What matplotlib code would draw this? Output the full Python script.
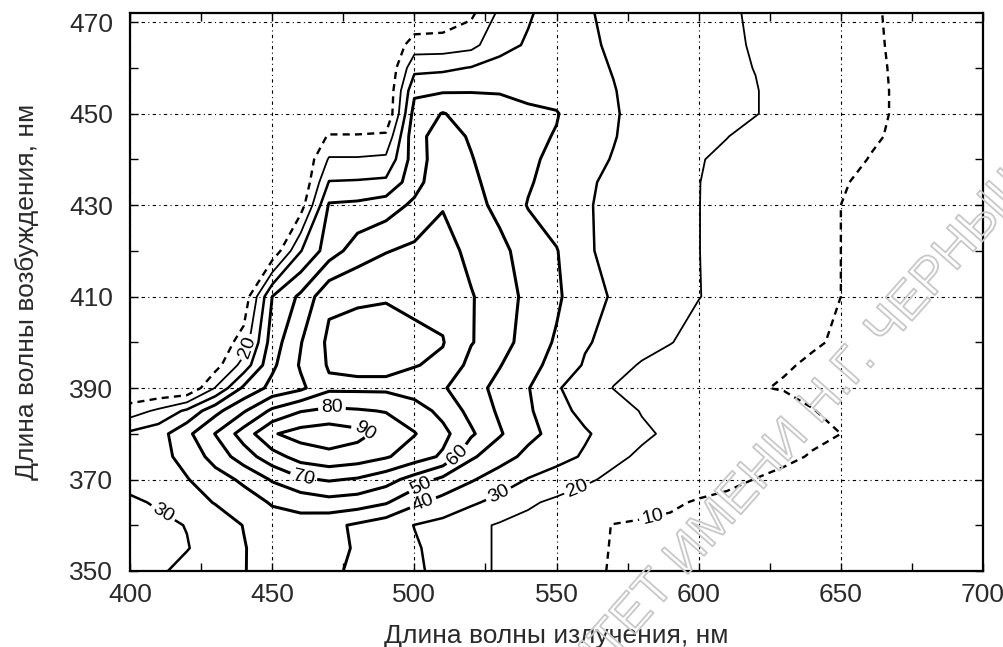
import numpy as np
import matplotlib
matplotlib.use("Agg")
import matplotlib.pyplot as plt
from matplotlib.ticker import MultipleLocator
import matplotlib.patheffects as pe

plt.rcParams["font.family"] = ["Liberation Sans", "DejaVu Sans"]
plt.rcParams["lines.dashed_pattern"] = [3.0, 2.2]

# emission wavelength (columns) and excitation wavelength (rows), nm
em_nm = [400, 410, 420, 430, 440, 450, 460, 470, 480, 490, 500, 510, 520, 530,
         540, 550, 560, 570, 580, 590, 600, 610, 620, 630, 640, 660, 680, 700]
ex_nm = [350, 355, 360, 365, 370, 375, 380, 385, 390, 395, 400, 410, 420, 430,
         435, 440, 445, 450, 455, 460, 465, 472]

# relative fluorescence intensity, one row per excitation wavelength
intensity = [
    [25, 28.5, 33, 36.5, 39.7, 43, 44.5, 42, 38, 35, 31.5, 27.5, 22.5, 19, 16.5, 14, 11.5, 9.5, 8.5, 8, 7.5, 7, 7, 6.5, 6.5, 6, 5.5, 5],
    [26, 27.5, 29.5, 34.5, 39.5, 44.5, 47, 43, 39, 34.5, 31, 27, 22.5, 19, 16.5, 14, 11.5, 9.7, 9, 8.5, 8, 7.5, 7, 7, 6.5, 6, 5.5, 5],
    [27, 28, 30.3, 35, 40.3, 45, 46, 42.5, 38.5, 34.5, 29.8, 27, 22.5, 19, 17, 14.5, 12, 9.8, 9.3, 9, 8.5, 8, 7.5, 7, 7, 6.5, 6, 5.5],
    [28.5, 31, 36, 40.5, 45, 51, 53.5, 56.5, 55, 51, 42, 36.5, 31.5, 27, 21.5, 18, 15.5, 13.5, 12, 10.8, 9.5, 9, 8.5, 8, 7.5, 7, 6.5, 6],
    [33, 36.5, 39.5, 45.5, 52, 61, 68.5, 71, 69, 64, 56, 47.5, 41, 35, 29.5, 26, 21.5, 18, 15.5, 14, 12.5, 11, 9.9, 9, 8.5, 7.5, 7, 6.5],
    [35.5, 37, 43, 54, 65, 76, 84, 87, 85, 81, 75, 68.5, 51.5, 44, 37.5, 33, 29, 22, 18.5, 16.5, 15, 13.5, 12, 10.8, 9.7, 8.5, 8, 7],
    [32, 36, 47.5, 60.3, 74.5, 89, 94, 96, 93, 86.5, 80.5, 73, 61.5, 51, 42.5, 37, 31, 26.5, 21.5, 18.5, 17, 15.5, 14, 12.5, 10.8, 9.2, 8.5, 7.5],
    [15, 22, 32, 47, 59, 72, 79.5, 82, 81, 79.5, 75, 67, 57, 48.5, 41.5, 33, 27.5, 24, 19.5, 17.5, 16, 14.5, 13.5, 12, 10.1, 8.5, 8, 7],
    [0, 0, 0, 20.5, 42, 53, 58, 68, 68, 68, 65, 61, 54, 47, 40.5, 31, 25, 19.8, 17, 15, 13, 11.5, 10.3, 9.7, 9.3, 8.5, 7.5, 7],
    [0, 0, 0, 6, 24, 48, 61, 71, 72, 72, 70.5, 68, 57, 50.5, 43, 37, 29, 22, 19.5, 17, 15, 13, 11.5, 10.3, 9.6, 8.8, 8, 7],
    [0, 0, 0, 3, 14, 45, 59.5, 72, 73, 73, 72, 70.5, 60.5, 55, 45, 39, 31, 27, 22, 20.3, 17.5, 15, 13, 11.5, 10.3, 9, 8, 7],
    [0, 0, 0, 0, 3, 40, 52, 68, 69, 69.5, 68, 67, 60.5, 56, 47, 41.5, 34, 29, 25, 22, 20.2, 18, 15.5, 13, 11, 9, 8, 7],
    [0, 0, 0, 0, 0, 2, 29.5, 45, 55, 59.5, 62, 63, 58, 53, 45, 40.5, 31.5, 27, 24, 22, 20.1, 18, 15.5, 13, 11, 9, 8, 7],
    [0, 0, 0, 0, 0, 0, 5, 41, 42, 45, 52, 59.5, 54, 47, 39.5, 35, 31, 27.5, 25, 22, 20.1, 18, 15.5, 13, 11, 9, 8, 7],
    [0, 0, 0, 0, 0, 0, 0, 30.5, 31, 32, 46, 58, 52, 46, 41, 36, 31.5, 28, 25.5, 22, 20.1, 18.5, 16, 13.5, 11.5, 9.2, 8, 7],
    [0, 0, 0, 0, 0, 0, 0, 21, 21, 22, 45, 56, 50.5, 45, 41.5, 38, 33, 29.5, 26, 22.5, 20.3, 19, 17, 14.5, 12.5, 9.9, 8.5, 7],
    [0, 0, 0, 0, 0, 0, 0, 11, 11, 12, 47, 54, 49, 44, 42, 39.5, 34.5, 30.5, 26.5, 23, 21, 20.1, 18.5, 16, 14, 10.5, 8.5, 7],
    [0, 0, 0, 0, 0, 0, 0, 0, 0, 0, 44, 50.5, 46, 43, 41.5, 40.5, 35, 31, 26.5, 23, 21.5, 21, 20.2, 18.5, 16, 10.8, 8.5, 7],
    [0, 0, 0, 0, 0, 0, 0, 0, 0, 0, 38, 39, 39.5, 39.5, 38, 37, 34, 30.5, 26, 23, 21.5, 21, 20.2, 18.5, 16, 10.8, 8.5, 7],
    [0, 0, 0, 0, 0, 0, 0, 0, 0, 0, 27, 28, 30.5, 33, 34, 35, 33, 29.5, 25.5, 22.5, 21, 20.8, 19.9, 18, 15.5, 10.7, 8.5, 7],
    [0, 0, 0, 0, 0, 0, 0, 0, 0, 0, 15, 15, 17, 27, 31, 34, 32, 28.5, 25, 22, 20.8, 20.6, 19.7, 17.8, 15.3, 10.6, 8.4, 7],
    [0, 0, 0, 0, 0, 0, 0, 0, 0, 0, 0, 2, 8, 22, 29, 34, 31, 28, 24, 21.5, 20.7, 20.5, 19.5, 17.5, 15, 10.5, 8.3, 7],
]

levels = [10, 20, 30, 40, 50, 60, 70, 80, 90]

x_ticks = [400, 450, 500, 550, 600, 650, 700]
y_ticks = [350, 370, 390, 410, 430, 450, 470]

# where the inline level labels sit (data coords)
label_spots = [(482, 380), (471, 385.5), (461, 370.5), (514, 375.8), (502, 369.2),
               (503, 365), (529, 367.7), (411.6, 362.7), (557, 368.4),
               (442, 398.7), (583, 364)]

ink = "#2a2a2a"

fig = plt.figure(figsize=(10.04, 6.47), dpi=100)
ax = fig.add_axes([0.1295, 0.1175, 0.8496, 0.8624])

X, Y = np.meshgrid(em_nm, ex_nm)
Z = np.array(intensity)

widths = [1.7, 1.3, 1.8, 2.1, 2.2, 2.2, 2.2, 2.2, 2.2]
styles = ["dashed"] + ["solid"] * 8
cs = ax.contour(X, Y, Z, levels=levels, colors="black",
                linewidths=widths, linestyles=styles)
ax.clabel(cs, manual=label_spots, inline=True, fmt="%d",
          fontsize=14, inline_spacing=3)

ax.set_xlim(400, 700)
ax.set_ylim(350, 472)
ax.set_xticks(x_ticks)
ax.set_yticks(y_ticks)
ax.xaxis.set_minor_locator(MultipleLocator(25))
ax.yaxis.set_minor_locator(MultipleLocator(10))
ax.grid(True, which="major", color="black", linestyle=(0, (3, 3, 1, 3)), linewidth=0.8)
ax.tick_params(which="both", direction="in", top=True, right=True,
               length=6, width=1.0, colors="black")
ax.tick_params(which="major", labelsize=19, labelcolor=ink)
ax.tick_params(axis="x", which="major", pad=9)
ax.tick_params(axis="y", which="major", pad=12)
for sp in ax.spines.values():
    sp.set_linewidth(1.6)

ax.set_xlabel("Длина волны излучения, нм", fontsize=19, color=ink, labelpad=12)
ax.set_ylabel("Длина волны возбуждения, нм", fontsize=19, color=ink, labelpad=22)

# faint outlined watermark of the source
fig.text(0.798, 0.342, "УНИВЕРСИТЕТ ИМЕНИ Н.Г. ЧЕРНЫШЕВСКОГО", rotation=48.5,
         rotation_mode="anchor", ha="center", va="center", fontsize=37,
         color="none",
         path_effects=[pe.withStroke(linewidth=1.3, foreground="#c8c8c8")])

fig.savefig("out.png", dpi=100)
